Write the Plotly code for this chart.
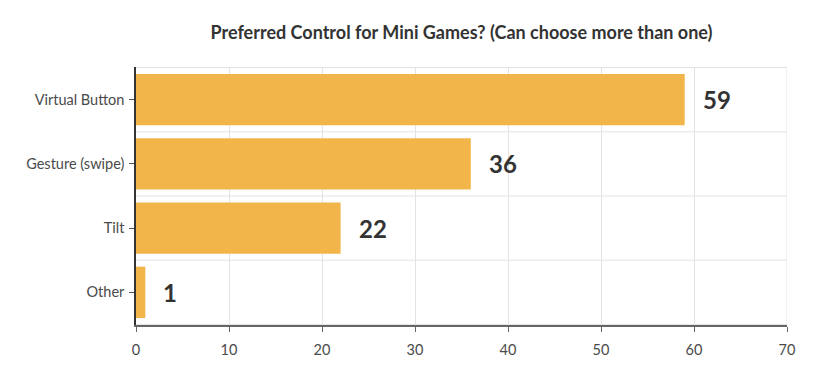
import plotly.graph_objects as go

categories = ["Virtual Button", "Gesture (swipe)", "Tilt", "Other"]
values = [59, 36, 22, 1]
x_ticks = [0, 10, 20, 30, 40, 50, 60, 70]
title_text = "Preferred Control for Mini Games? (Can choose more than one)"

bar_color = "#F2B54A"
text_color = "#333333"

fig = go.Figure()
fig.add_trace(go.Bar(
    y=categories, x=values, orientation="h",
    marker=dict(color=bar_color, line=dict(width=0)),
    hoverinfo="x+y",
))

for c, v in zip(categories, values):
    fig.add_annotation(x=v, y=c, text=f"<b>{v}</b>", showarrow=False,
                       xanchor="left", xshift=16,
                       font=dict(family="Lato", size=24, color=text_color))

# category separator lines and frame
n = len(categories)
for i in range(n + 1):
    fig.add_shape(type="line", xref="paper", yref="y", x0=0, x1=1,
                  y0=i - 0.5, y1=i - 0.5, line=dict(color="#E3E3E3", width=1), layer="below")
fig.add_shape(type="line", xref="x", yref="paper", x0=70, x1=70, y0=0, y1=1,
              line=dict(color="#E3E3E3", width=1), layer="below")

fig.update_layout(
    width=818, height=376,
    margin=dict(l=136, r=31, t=67, b=51),
    paper_bgcolor="white", plot_bgcolor="white",
    font=dict(family="Lato", size=14.5, color="#4a4a4a"),
    title=dict(text=f"<b>{title_text}</b>", x=0.5, xref="paper", xanchor="center",
               y=0.912, yref="container", yanchor="middle",
               font=dict(family="Lato", size=18, color=text_color)),
    bargap=0.2,
    showlegend=False,
)
fig.update_xaxes(range=[0, 70], tickvals=x_ticks, showgrid=True, gridcolor="#E3E3E3",
                 zeroline=False, showline=True, linecolor="#666666", linewidth=1.5,
                 ticks="outside", ticklen=5, tickcolor="#666666", ticklabelstandoff=6,
                 tickfont=dict(size=14.5, color="#4a4a4a"))
fig.update_yaxes(autorange="reversed", showgrid=False, showline=True,
                 linecolor="#333333", linewidth=1.5, ticks="outside", ticklen=5,
                 tickcolor="#555555", ticklabelstandoff=2,
                 tickfont=dict(size=14.5, color="#4a4a4a"))

fig.write_html("out.html", config={"displayModeBar": False},
               post_script="document.body.style.margin='0';document.body.style.overflow='hidden';")
